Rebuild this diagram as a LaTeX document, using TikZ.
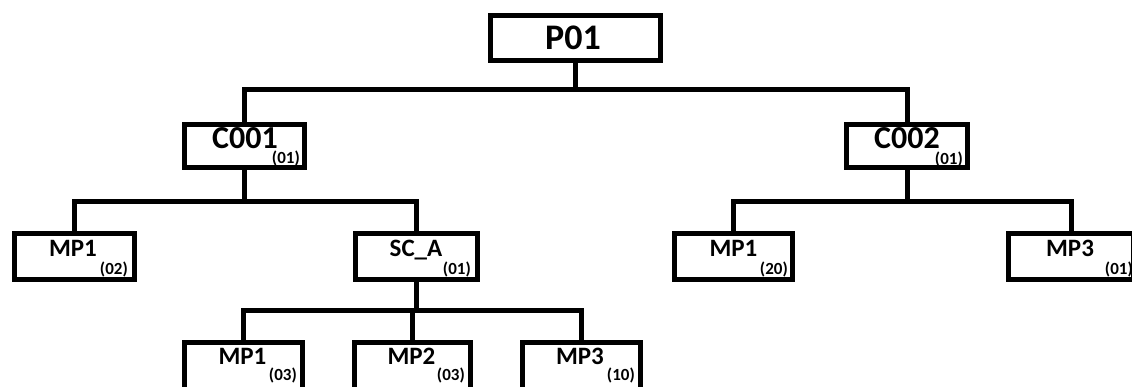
\documentclass[tikz,border=0pt]{standalone}
\usepackage{fontspec}
\setmainfont{Carlito}
\begin{document}
\begin{tikzpicture}[x=1pt,y=-1pt,
  box/.style={draw=black, line width=5pt, fill=white, inner sep=0pt, rectangle},
  ptxt/.style={font=\fontsize{36}{36}\selectfont\bfseries, inner sep=0pt, anchor=base},
  ctxt/.style={font=\fontsize{32}{32}\selectfont\bfseries, inner sep=0pt, anchor=base},
  mtxt/.style={font=\fontsize{25}{25}\selectfont\bfseries, inner sep=0pt, anchor=base},
  qty/.style={font=\fontsize{17}{17}\selectfont\bfseries, inner sep=0pt, anchor=base east},
  link/.style={draw=black, line width=5pt, line join=miter}]
\useasboundingbox (0,0) rectangle (1132,387);
\fill[white] (0,0) rectangle (1132,387);

% boxes
\node[box, minimum width=170pt, minimum height=45pt] (p01) at (575.5,38) {};
\node[box, minimum width=120pt, minimum height=43pt] (c001) at (244.5,146) {};
\node[box, minimum width=121pt, minimum height=43pt] (c002) at (907,146) {};
\node[box, minimum width=120pt, minimum height=46pt] (mp1a) at (74.5,256.5) {};
\node[box, minimum width=122pt, minimum height=46pt] (sca) at (416.5,256.5) {};
\node[box, minimum width=118pt, minimum height=46pt] (mp1b) at (733.5,256.5) {};
\node[box, minimum width=125pt, minimum height=46pt] (mp3b) at (1071,256.5) {};
\node[box, minimum width=118pt, minimum height=47pt] (mp1c) at (243.5,366) {};
\node[box, minimum width=116pt, minimum height=47pt] (mp2c) at (412.5,366) {};
\node[box, minimum width=118pt, minimum height=47pt] (mp3c) at (581.5,366) {};

% tree connectors between named nodes
\draw[link] (p01.south) -- (p01.south |- 0,90);
\draw[link] (c001.north) -- (c001.north |- 0,90) -- (c002.north |- 0,90) -- (c002.north);
\draw[link] (c001.south) -- (c001.south |- 0,202);
\draw[link] (mp1a.north) -- (mp1a.north |- 0,202) -- (sca.north |- 0,202) -- (sca.north);
\draw[link] (c002.south) -- (c002.south |- 0,202);
\draw[link] (mp1b.north) -- (mp1b.north |- 0,202) -- (mp3b.north |- 0,202) -- (mp3b.north);
\draw[link] (sca.south) -- (sca.south |- 0,310);
\draw[link] (mp1c.north) -- (mp1c.north |- 0,310) -- (mp3c.north |- 0,310) -- (mp3c.north);
\draw[link] (mp2c.north) -- (mp2c.north |- 0,310);

% labels
\node[ptxt] (p01t) at (573,50) {P01};
\node[ctxt] (c001t) at (245,149) {C001};
\node[qty] (c001q) at (300,164) {(01)};
\node[ctxt] (c002t) at (907,149) {C002};
\node[qty] (c002q) at (963,165) {(01)};
\node[mtxt] (mp1at) at (73,257) {MP1};
\node[qty] (mp1aq) at (128,275) {(02)};
\node[mtxt] (scat) at (416,257) {SC\_A};
\node[qty] (scaq) at (471,275) {(01)};
\node[mtxt] (mp1bt) at (733.5,257) {MP1};
\node[qty] (mp1bq) at (788,275) {(20)};
\node[mtxt] (mp3bt) at (1070,257) {MP3};
\node[qty] (mp3bq) at (1133,275) {(01)};
\node[mtxt] (mp1ct) at (242.5,364) {MP1};
\node[qty] (mp1cq) at (297,380) {(03)};
\node[mtxt] (mp2ct) at (411.5,364) {MP2};
\node[qty] (mp2cq) at (465,380) {(03)};
\node[mtxt] (mp3ct) at (580,364) {MP3};
\node[qty] (mp3cq) at (635,380) {(10)};
\end{tikzpicture}
\end{document}
